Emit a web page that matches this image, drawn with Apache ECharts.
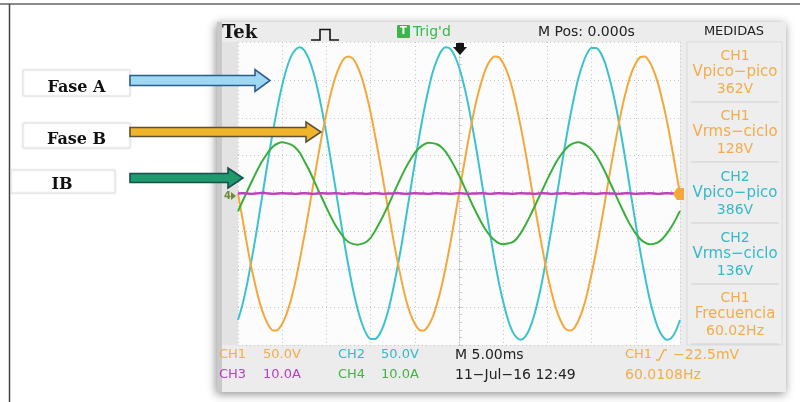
<!DOCTYPE html>
<html>
<head>
<meta charset="utf-8">
<script src="https://cdn.jsdelivr.net/npm/echarts@6/dist/echarts.min.js"></script>
<style>
html,body{margin:0;padding:0;background:#fff;}
#chart{width:800px;height:402px;}
</style>
</head>
<body>
<div id="chart"></div>
<script>
// Sample instants in ms (trigger at 0), 0.5 ms apart over 10 divisions of 5 ms
const sampleMs = [-25,-24.5,-24,-23.5,-23,-22.5,-22,-21.5,-21,-20.5,-20,-19.5,-19,-18.5,-18,-17.5,-17,-16.5,-16,-15.5,-15,-14.5,-14,-13.5,-13,-12.5,-12,-11.5,-11,-10.5,-10,-9.5,-9,-8.5,-8,-7.5,-7,-6.5,-6,-5.5,-5,-4.5,-4,-3.5,-3,-2.5,-2,-1.5,-1,-0.5,0,0.5,1,1.5,2,2.5,3,3.5,4,4.5,5,5.5,6,6.5,7,7.5,8,8.5,9,9.5,10,10.5,11,11.5,12,12.5,13,13.5,14,14.5,15,15.5,16,16.5,17,17.5,18,18.5,19,19.5,20,20.5,21,21.5,22,22.5,23,23.5,24,24.5,25];

// CH1 – Fase B voltage (V)
const ch1FaseB = [0,-33,-66,-97,-123,-146,-163,-175,-181,-180,
  -172,-159,-140,-116,-87,-56,-23,11,45,77,
  106,132,153,168,178,181,178,168,153,132,
  107,77,45,12,-22,-56,-87,-115,-140,-159,
  -172,-180,-181,-175,-164,-146,-124,-97,-67,-34,
  0,34,67,97,124,146,164,175,181,180,
  172,159,140,115,87,56,22,-12,-45,-77,
  -107,-132,-153,-168,-178,-181,-178,-168,-153,-132,
  -106,-77,-45,-11,23,56,87,116,140,159,
  172,180,181,175,163,146,123,97,66,33,
  0];

// CH2 – Fase A voltage (V)
const ch2FaseA = [-167,-147,-121,-90,-57,-21,15,51,85,116,
  143,165,181,190,193,189,178,161,138,110,
  79,44,9,-28,-63,-96,-126,-151,-171,-185,
  -192,-192,-186,-173,-154,-129,-100,-68,-32,4,
  40,75,107,135,159,176,188,193,191,182,
  167,146,120,89,56,20,-16,-52,-86,-117,
  -143,-165,-181,-190,-193,-189,-178,-161,-138,-110,
  -78,-44,-8,29,64,97,126,152,171,185,
  192,192,186,173,153,129,100,67,32,-5,
  -41,-76,-107,-136,-159,-177,-188,-193,-191,-182,
  -167];

// CH4 – IB current (A)
const ch4IB = [-4.7,-2.1,0.4,2.9,5.3,7.6,9.5,11.2,12.5,13.2,
  13.5,13.3,12.9,12.1,10.7,8.6,6.4,3.9,1.3,-1.2,
  -3.7,-6.1,-8.3,-10.1,-11.7,-12.8,-13.3,-13.5,-13.3,-12.8,
  -11.7,-9.9,-7.8,-5.5,-3.1,-0.5,2.1,4.6,6.9,8.9,
  10.7,12.0,12.9,13.4,13.3,13.0,12.3,11.0,9.2,7.1,
  4.8,2.3,-0.3,-2.9,-5.3,-7.5,-9.5,-11.1,-12.3,-13.1,
  -13.4,-13.2,-12.9,-12.0,-10.4,-8.4,-6.1,-3.7,-1.2,1.3,
  3.8,6.1,8.3,10.1,11.6,12.7,13.3,13.5,13.2,12.6,
  11.6,10.1,8.1,5.8,3.3,0.8,-1.8,-4.3,-6.7,-8.8,
  -10.6,-12.0,-12.9,-13.4,-13.3,-12.9,-12.0,-10.6,-8.9,-6.9,
  -4.6];

// CH3 – current (A), practically zero
const ch3 = [0,0.1,0,-0.1,0,0.1,0.1,0,-0.1,0,
  0.1,0,0,-0.1,0,0.1,0,-0.1,0,0.1,
  0,0,0.1,0,-0.1,0,0.1,0,0,-0.1,
  0,0.1,0,-0.1,0,0,0.1,0,-0.1,0,
  0.1,0,0,-0.1,0,0.1,0,0,-0.1,0,
  0.1,0,-0.1,0,0,0.1,0,-0.1,0,0.1,
  0,0,-0.1,0,0.1,0,0,-0.1,0,0.1,
  0,-0.1,0,0,0.1,0,-0.1,0,0.1,0,
  0,-0.1,0,0.1,0,0,-0.1,0,0.1,0,
  -0.1,0,0,0.1,0,-0.1,0,0.1,0,0,
  0];

// Vertical scales and horizontal timebase
const voltsPerDiv = 50;
const ampsPerDiv = 10;
const msPerDiv = 5;

// Channel settings shown in the status bar
const chSettings = [
  ['CH1', '50.0V'], ['CH2', '50.0V'], ['CH3', '10.0A'], ['CH4', '10.0A']
];

// Measurement panel
const medidas = [
  ['CH1', 'Vpico\u2212pico', '362V'],
  ['CH1', 'Vrms\u2212ciclo', '128V'],
  ['CH2', 'Vpico\u2212pico', '386V'],
  ['CH2', 'Vrms\u2212ciclo', '136V'],
  ['CH1', 'Frecuencia', '60.02Hz']
];

// Annotation labels on the left
const phaseLabels = ['Fase A', 'Fase B', 'IB'];

const colors = {
  CH1: '#f4a83c', CH2: '#3cc2cf', CH3: '#c23cc2', CH4: '#3aae3a'
};
const textColors = {
  CH1: '#f2ad4a', CH2: '#35b9c8', CH3: '#b640c0', CH4: '#45b045'
};

function pairs(arr) { return sampleMs.map((t, i) => [t, arr[i]]); }

function txt(x, y, text, fill, font, align) {
  const a = align || 'left';
  return {
    type: 'text', x: x, y: y, z: 100,
    style: { text: text, fill: fill, font: font, align: a, textAlign: a,
      verticalAlign: 'middle', textVerticalAlign: 'middle' }
  };
}

const SANS = '"DejaVu Sans", sans-serif';
const g = [];

// page frame lines
g.push({ type: 'line', z: -30, shape: { x1: 0, y1: 4, x2: 800, y2: 4 }, style: { stroke: '#8a8a8a', lineWidth: 2 } });
g.push({ type: 'line', z: -30, shape: { x1: 9.5, y1: 4, x2: 9.5, y2: 402 }, style: { stroke: '#444', lineWidth: 1.5 } });

// scope screen body with drop shadow
g.push({ type: 'rect', z: -20, shape: { x: 217, y: 22, width: 569, height: 370 },
  style: { fill: '#ececec', shadowBlur: 9, shadowColor: 'rgba(0,0,0,0.45)', shadowOffsetX: -1, shadowOffsetY: 2 } });
g.push({ type: 'rect', z: -19, shape: { x: 217, y: 22, width: 5, height: 370 },
  style: { fill: '#c9c9c9' } });
g.push({ type: 'rect', z: -19, shape: { x: 222, y: 42, width: 16, height: 303 },
  style: { fill: '#e3e3e3' } });

// measurement panel
g.push({ type: 'rect', z: -18, shape: { x: 687, y: 42, width: 95, height: 303 },
  style: { fill: '#eeeeee', stroke: '#dadada', lineWidth: 1 } });

// header
g.push(txt(222, 33, 'Tek', '#151515', 'bold 18px "DejaVu Serif", serif'));
g.push({ type: 'polyline', z: 100, shape: { points: [[311, 40], [320, 40], [320, 29.5], [330, 29.5], [330, 40], [339, 40]] },
  style: { stroke: '#151515', lineWidth: 1.6, fill: null } });
g.push({ type: 'rect', z: 100, shape: { x: 397, y: 25, width: 13, height: 13, r: 1 }, style: { fill: '#3db54a' } });
g.push(txt(403.5, 31.8, 'T', '#ffffff', 'bold 10px ' + SANS, 'center'));
g.push(txt(413, 32, "Trig'd", '#3db54a', '14px ' + SANS));
g.push(txt(538, 32, 'M Pos: 0.000s', '#222', '14px ' + SANS));
g.push(txt(734, 32, 'MEDIDAS', '#222', '13px ' + SANS, 'center'));

// measurement blocks
const blockCenters = [72, 132, 193, 254, 314];
medidas.forEach((m, i) => {
  const c = textColors[m[0]];
  const cy = blockCenters[i];
  g.push(txt(735, cy - 16, m[0], c, '14px ' + SANS, 'center'));
  g.push(txt(735, cy, m[1], c, '15px ' + SANS, 'center'));
  g.push(txt(735, cy + 17, m[2], c, '14px ' + SANS, 'center'));
  const sy = cy + 30;
  g.push({ type: 'line', z: 90, shape: { x1: 691, y1: sy, x2: 779, y2: sy }, style: { stroke: '#cfcfcf', lineWidth: 1 } });
});

// status bar
const statusX = [[219, 263], [338, 381], [219, 263], [338, 381]];
const statusY = [355, 355, 375, 375];
chSettings.forEach((s, i) => {
  const c = textColors[s[0]];
  g.push(txt(statusX[i][0], statusY[i], s[0], c, '13px ' + SANS));
  g.push(txt(statusX[i][1], statusY[i], s[1], c, '13px ' + SANS));
});
g.push(txt(455, 355, 'M 5.00ms', '#222', '14px ' + SANS));
g.push(txt(455, 375, '11\u2212Jul\u221216 12:49', '#222', '14px ' + SANS));
g.push(txt(625, 355, 'CH1', textColors.CH1, '13px ' + SANS));
g.push({ type: 'polyline', z: 100, shape: { points: [[656, 360], [659, 360], [664, 350], [667, 350]] },
  style: { stroke: textColors.CH1, lineWidth: 1.4, fill: null } });
g.push(txt(673, 355, '\u221222.5mV', textColors.CH1, '14px ' + SANS));
g.push(txt(625, 375, '60.0108Hz', textColors.CH1, '14px ' + SANS));

// trigger position marker (top) and level marker (right)
g.push({ type: 'polygon', z: 100, shape: { points: [[456, 43], [464, 43], [464, 47], [467, 47], [460, 55], [453, 47], [456, 47]] },
  style: { fill: '#151515' } });
g.push({ type: 'polygon', z: 100, shape: { points: [[684, 188], [677, 188], [673, 194], [677, 200], [684, 200]] },
  style: { fill: colors.CH1 } });
// ground marker for CH3/CH4
g.push(txt(224, 196, '4', '#6e8a3a', 'bold 10px ' + SANS));
g.push({ type: 'polygon', z: 100, shape: { points: [[231, 192], [236, 196], [231, 200]] }, style: { fill: '#6e8a3a' } });

// left annotation boxes
const boxes = [
  { x: 23, y: 70, w: 107, h: 26, ty: 88 },
  { x: 23, y: 123, w: 107, h: 25, ty: 140 },
  { x: 11, y: 170, w: 104, h: 23, ty: 185 }
];
boxes.forEach((b, i) => {
  g.push({ type: 'rect', z: 10, shape: { x: b.x, y: b.y, width: b.w, height: b.h },
    style: { fill: '#fff', stroke: '#e4e4e4', lineWidth: 1, shadowBlur: 2, shadowColor: 'rgba(0,0,0,0.12)' } });
  g.push(txt(b.x + b.w / 2 + (i === 2 ? -1 : 0), b.ty, phaseLabels[i], '#111', 'bold 16px "DejaVu Serif", serif', 'center'));
});

// arrows
function arrow(x0, tip, y, half, headLen, headHalf, fill, stroke) {
  const hx = tip - headLen;
  return { type: 'polygon', z: 20, shape: { points: [
      [x0, y - half], [hx, y - half], [hx, y - headHalf], [tip, y], [hx, y + headHalf], [hx, y + half], [x0, y + half]] },
    style: { fill: fill, stroke: stroke, lineWidth: 1.6, lineJoin: 'miter' } };
}
g.push(arrow(130, 270, 80.5, 5, 15, 11, '#9fd8f3', '#2d5c8c'));
g.push(arrow(130, 321, 132, 4.5, 15, 10, '#f1b52c', '#5c5138'));
g.push(arrow(130, 243, 178, 4.5, 15, 10, '#1f9a6c', '#1b4d4d'));

const chart = echarts.init(document.getElementById('chart'), null, { renderer: 'canvas' });

const dotted = { color: '#c6c6c6', width: 1, type: [1, 3] };

chart.setOption({
  animation: false,
  backgroundColor: 'transparent',
  grid: { left: 238, top: 42, width: 442, height: 303, show: true, backgroundColor: '#fcfcfc', borderWidth: 0 },
  xAxis: {
    type: 'value', min: -5 * msPerDiv, max: 5 * msPerDiv, interval: msPerDiv,
    axisLabel: { show: false },
    axisLine: { show: true, onZero: true, lineStyle: dotted },
    axisTick: { show: true, inside: true, length: 3, lineStyle: { color: '#c6c6c6' } },
    minorTick: { show: true, splitNumber: 5, length: 3, lineStyle: { color: '#cccccc' } },
    splitLine: { show: true, lineStyle: dotted }
  },
  yAxis: [
    {
      type: 'value', min: -4 * voltsPerDiv, max: 4 * voltsPerDiv, interval: voltsPerDiv,
      axisLabel: { show: false },
      axisLine: { show: true, onZero: true, lineStyle: dotted },
      axisTick: { show: true, inside: true, length: 3, lineStyle: { color: '#c6c6c6' } },
      minorTick: { show: true, splitNumber: 5, length: 3, lineStyle: { color: '#cccccc' } },
      splitLine: { show: true, lineStyle: dotted }
    },
    {
      type: 'value', min: -4 * ampsPerDiv, max: 4 * ampsPerDiv, interval: ampsPerDiv, show: false,
      splitLine: { show: false }
    }
  ],
  graphic: { elements: g },
  series: [
    { name: 'CH2', type: 'line', yAxisIndex: 0, data: pairs(ch2FaseA), showSymbol: false, symbol: 'none',
      smooth: 0.3, lineStyle: { color: colors.CH2, width: 2 }, z: 3 },
    { name: 'CH1', type: 'line', yAxisIndex: 0, data: pairs(ch1FaseB), showSymbol: false, symbol: 'none',
      smooth: 0.3, lineStyle: { color: colors.CH1, width: 2 }, z: 3 },
    { name: 'CH4', type: 'line', yAxisIndex: 1, data: pairs(ch4IB), showSymbol: false, symbol: 'none',
      smooth: 0.15, lineStyle: { color: colors.CH4, width: 2 }, z: 4 },
    { name: 'CH3', type: 'line', yAxisIndex: 1, data: pairs(ch3), showSymbol: false, symbol: 'none',
      lineStyle: { color: colors.CH3, width: 2.5 }, z: 5 }
  ]
});
</script>
</body>
</html>
